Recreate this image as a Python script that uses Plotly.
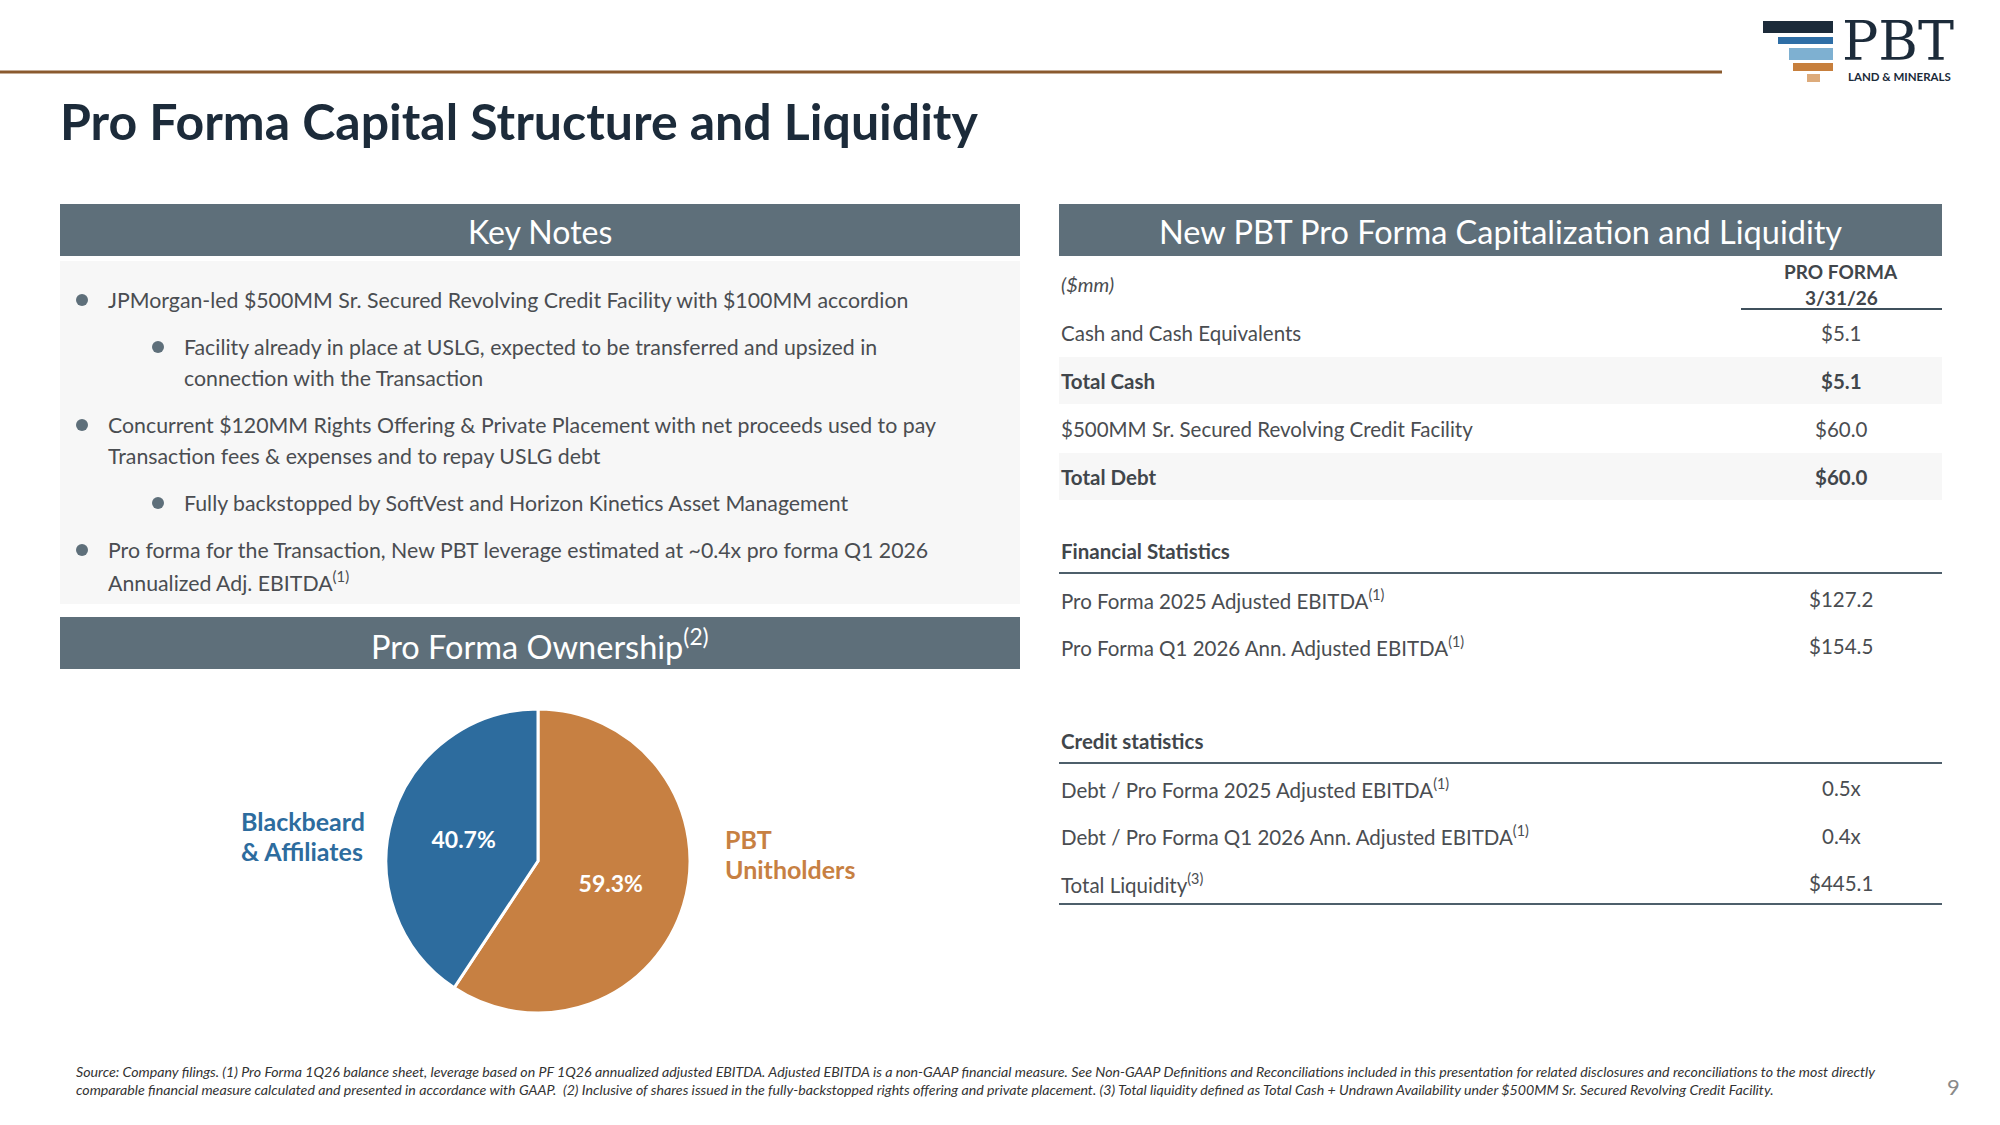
import plotly.graph_objects as go

W, H = 2000, 1125
FONT = "Lato"

# ---------------- data ----------------
title_text = "Pro Forma Capital Structure and Liquidity"
left_header = "Key Notes"
own_header = "Pro Forma Ownership<sup>(2)</sup>"
right_header = "New PBT Pro Forma Capitalization and Liquidity"

note_levels = [0, 1, 0, 1, 0]
note_lines = [
    ["JPMorgan-led $500MM Sr. Secured Revolving Credit Facility with $100MM accordion"],
    ["Facility already in place at USLG, expected to be transferred and upsized in",
     "connection with the Transaction"],
    ["Concurrent $120MM Rights Offering & Private Placement with net proceeds used to pay",
     "Transaction fees & expenses and to repay USLG debt"],
    ["Fully backstopped by SoftVest and Horizon Kinetics Asset Management"],
    ["Pro forma for the Transaction, New PBT leverage estimated at ~0.4x pro forma Q1 2026",
     "Annualized Adj. EBITDA<sup>(1)</sup>"],
]

owners = ["PBT Unitholders", "Blackbeard & Affiliates"]
owner_label_lines = [["PBT", "Unitholders"], ["Blackbeard", "& Affiliates"]]
shares = [59.3, 40.7]

units_label = "($mm)"
col_header_lines = ["PRO FORMA", "3/31/26"]
cap_rows = ["Cash and Cash Equivalents", "Total Cash",
            "$500MM Sr. Secured Revolving Credit Facility", "Total Debt"]
cap_values = ["$5.1", "$5.1", "$60.0", "$60.0"]
cap_bold = [False, True, False, True]

fin_title = "Financial Statistics"
fin_rows = ["Pro Forma 2025 Adjusted EBITDA<sup>(1)</sup>",
            "Pro Forma Q1 2026 Ann. Adjusted EBITDA<sup>(1)</sup>"]
fin_values = ["$127.2", "$154.5"]

credit_title = "Credit statistics"
credit_rows = ["Debt / Pro Forma 2025 Adjusted EBITDA<sup>(1)</sup>",
               "Debt / Pro Forma Q1 2026 Ann. Adjusted EBITDA<sup>(1)</sup>",
               "Total Liquidity<sup>(3)</sup>"]
credit_values = ["0.5x", "0.4x", "$445.1"]

footnotes = [
    "Source: Company filings. (1) Pro Forma 1Q26 balance sheet, leverage based on PF 1Q26 annualized adjusted EBITDA. Adjusted EBITDA is a non-GAAP financial measure. See Non-GAAP Definitions and Reconciliations included in this presentation for related disclosures and reconciliations to the most directly",
    "comparable financial measure calculated and presented in accordance with GAAP.  (2) Inclusive of shares issued in the fully-backstopped rights offering and private placement. (3) Total liquidity defined as Total Cash + Undrawn Availability under $500MM Sr. Secured Revolving Credit Facility.",
]
page_number = "9"

# ---------------- styles ----------------
NAVY = "#1C2B3A"
SLATE = "#5E6F7A"
TEXT = "#4A4D51"
DARK = "#41464B"
BLUE = "#2D6C9E"
ORANGE = "#C78042"
BAND = "#F7F7F7"


def X(px):
    return px / W


def Y(py):
    return 1 - py / H


annotations = []
shapes = []


def ann(text, x, y, size, color, xanchor="left", weight="normal", style="normal",
        align="left", family=FONT):
    annotations.append(dict(
        text=text, x=X(x), y=Y(y), xref="paper", yref="paper",
        xanchor=xanchor, yanchor="middle", align=align, showarrow=False,
        font=dict(family=family, size=size, color=color, weight=weight, style=style)))


def rect(x0, y0, x1, y1, color):
    shapes.append(dict(type="rect", xref="paper", yref="paper",
                       x0=X(x0), x1=X(x1), y0=Y(y1), y1=Y(y0),
                       fillcolor=color, line=dict(width=0), layer="below"))


def hline(x0, x1, y, color, width):
    shapes.append(dict(type="line", xref="paper", yref="paper",
                       x0=X(x0), x1=X(x1), y0=Y(y), y1=Y(y),
                       line=dict(color=color, width=width)))


# top rule + title
hline(0, 1722, 72, "#8A5A2E", 3)
ann(title_text, 58, 121, 50, NAVY, weight="bold")

# logo
logo_bars = [(1763, 21, 1833, 33, NAVY), (1778, 37, 1833, 44, "#2E6EA6"),
             (1789, 48, 1833, 60, "#7EB0D1"), (1793, 63, 1833, 71, "#C77F3C"),
             (1807, 74, 1820, 82, "#DDAB7B")]
for b in logo_bars:
    rect(*b)
ann("PBT", 1840, 42, 54, NAVY, family="DejaVu Serif")
ann("LAND &amp; MINERALS", 1846, 76, 11.5, NAVY, weight="bold")

# left panel
rect(60, 204, 1020, 256, SLATE)
ann(left_header, 540, 231, 32, "white", xanchor="center")
rect(60, 261, 1020, 604, BAND)

y = 300
for lvl, lines in zip(note_levels, note_lines):
    bx = 82 if lvl == 0 else 158
    tx = 106 if lvl == 0 else 182
    shapes.append(dict(type="circle", xref="paper", yref="paper",
                       x0=X(bx - 6), x1=X(bx + 6), y0=Y(y + 6), y1=Y(y - 6),
                       fillcolor=SLATE, line=dict(width=0)))
    for j, line in enumerate(lines):
        ann(line, tx, y + j * 31, 21.3, TEXT)
    y += (len(lines) - 1) * 31 + 47

rect(60, 617, 1020, 669, SLATE)
ann(own_header, 540, 644, 32.5, "white", xanchor="center")

# pie labels
for j, line in enumerate(owner_label_lines[1]):
    ann(line, 239, 821 + j * 30, 25, BLUE, weight="bold")
for j, line in enumerate(owner_label_lines[0]):
    ann(line, 723, 839 + j * 30, 25, ORANGE, weight="bold")

# right panel
rect(1059, 204, 1942, 256, SLATE)
ann(right_header, 1500, 231, 32.5, "white", xanchor="center")
ann(units_label, 1059, 284, 20, TEXT, style="italic")
for j, line in enumerate(col_header_lines):
    ann(line, 1841, 271 + j * 26, 19, DARK, xanchor="center", weight="bold")
hline(1741, 1942, 309, "#3F505C", 2)

VX = 1841
y = 333
for lab, val, b in zip(cap_rows, cap_values, cap_bold):
    if b:
        rect(1059, y - 24, 1942, y + 23, BAND)
    ann(lab, 1059, y, 20.5, DARK if b else TEXT, weight="bold" if b else "normal")
    ann(val, VX, y, 20.5, DARK if b else TEXT, xanchor="center", weight="bold" if b else "normal")
    y += 48

ann(fin_title, 1059, 551, 20.5, DARK, weight="bold")
hline(1059, 1942, 573, "#4E5F6B", 2)
y = 599
for lab, val in zip(fin_rows, fin_values):
    ann(lab, 1059, y, 20.5, TEXT)
    ann(val, VX, y, 20.5, TEXT, xanchor="center")
    y += 47

ann(credit_title, 1059, 741, 20.5, DARK, weight="bold")
hline(1059, 1942, 763, "#4E5F6B", 2)
y = 788
for lab, val in zip(credit_rows, credit_values):
    ann(lab, 1059, y, 20.5, TEXT)
    ann(val, VX, y, 20.5, TEXT, xanchor="center")
    y += 47.5
hline(1059, 1942, 904, "#4E5F6B", 2)

# footnotes + page number
for k, fn in enumerate(footnotes):
    ann(fn, 74, 1071 + k * 18, 14.2, "#333333", style="italic")
ann(page_number, 1953, 1086, 22, "#8A8A8A", xanchor="center")

# pie
pie = go.Pie(
    labels=owners, values=shares, sort=False, direction="clockwise", rotation=0,
    marker=dict(colors=[ORANGE, BLUE], line=dict(color="white", width=3)),
    texttemplate="%{percent:.1%}", textposition="inside",
    insidetextorientation="horizontal",
    textfont=dict(family=FONT, size=23, color="white", weight="bold"),
    domain=dict(x=[X(386), X(690)], y=[Y(1013), Y(709)]),
    showlegend=False, hoverinfo="label+percent",
)

fig = go.Figure(pie)
fig.update_layout(
    width=W, height=H, margin=dict(l=0, r=0, t=0, b=0),
    paper_bgcolor="white", plot_bgcolor="white",
    annotations=annotations, shapes=shapes,
    font=dict(family=FONT),
)
fig.write_html("out.html", config={"displayModeBar": False},
               post_script="document.body.style.margin='0px';")
